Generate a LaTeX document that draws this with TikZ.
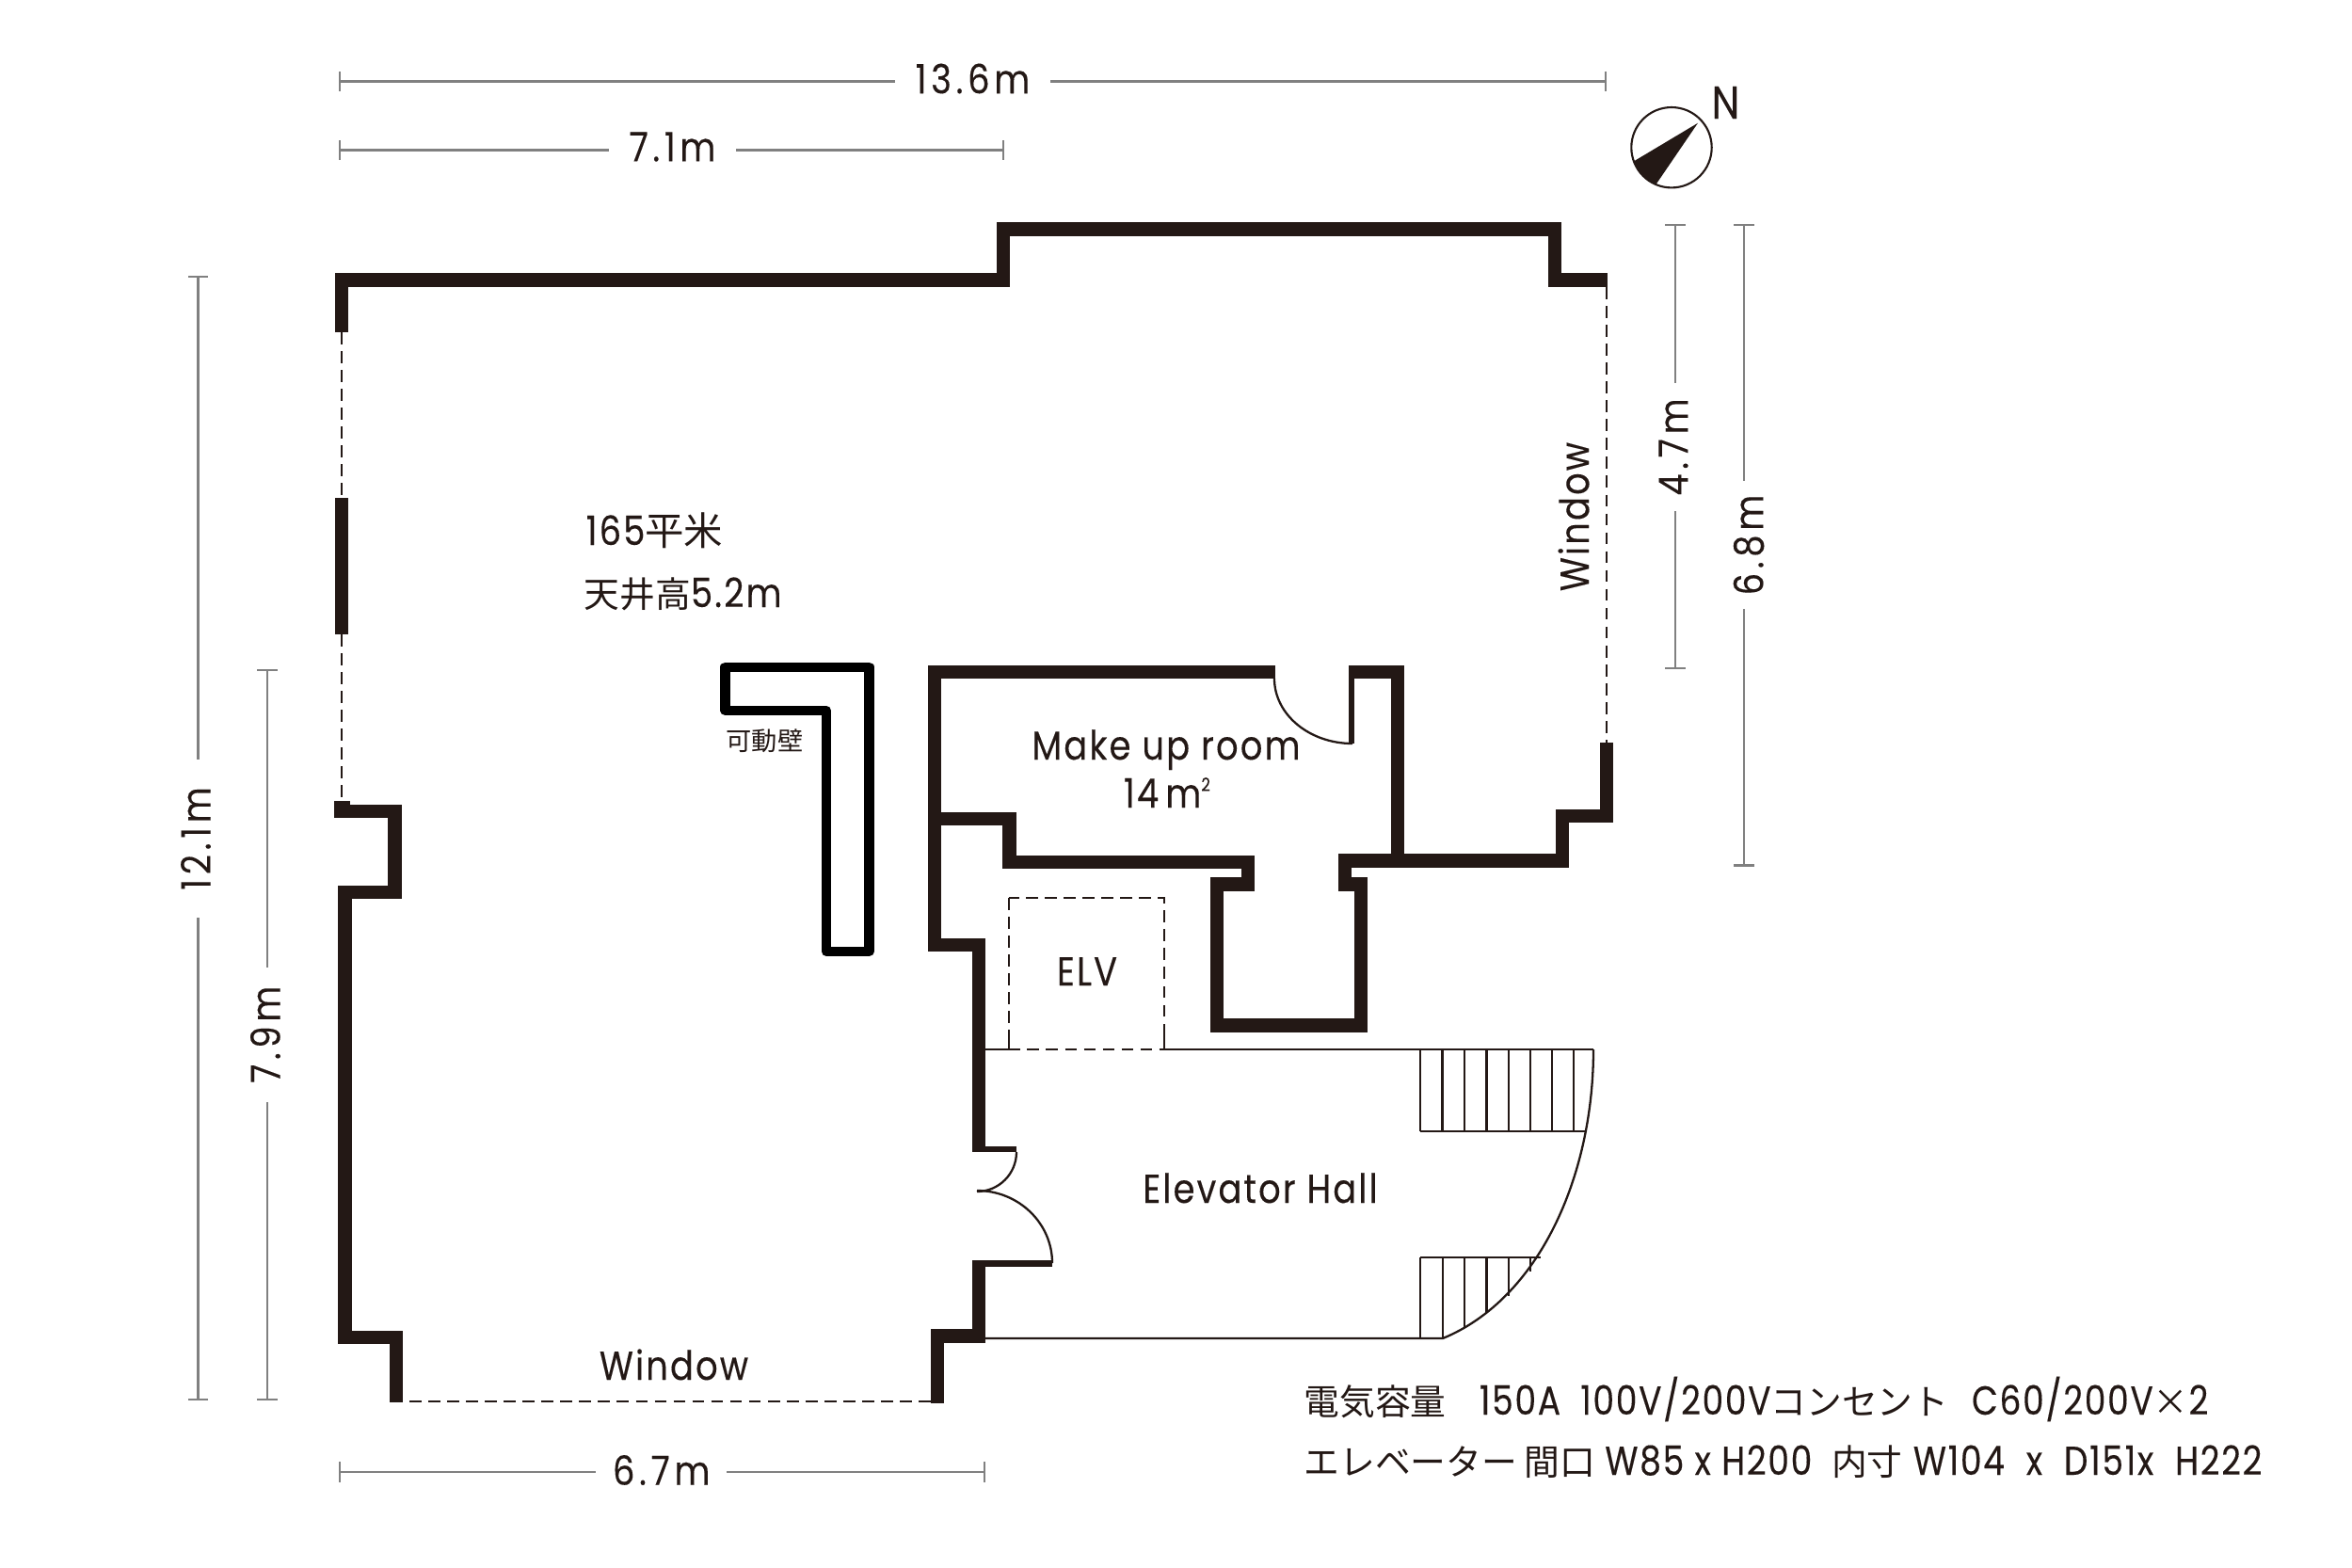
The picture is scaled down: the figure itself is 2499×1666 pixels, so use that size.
\documentclass[tikz,border=0pt]{standalone}
\usepackage{fontspec}
\setmainfont[FakeStretch=0.86,LetterSpace=5,FakeBold=0.2]{Poppins}
\newfontfamily\dimfont[FakeStretch=0.86,LetterSpace=11,FakeBold=0.2]{Poppins}
\newfontfamily\notefont[FakeStretch=0.84,LetterSpace=4,FakeBold=0.2]{Poppins}
\newfontfamily\cjk[Scale=0.88]{Noto Sans CJK JP}
\usetikzlibrary{arrows.meta}
\definecolor{wallink}{HTML}{231815}
\definecolor{dimgray}{HTML}{808080}
\newcommand{\jp}[1]{{\cjk #1}}
\tikzset{
    wall/.style={draw=wallink,line width=4pt,miter limit=10},
    thinwall/.style={draw=wallink,line width=1.9pt},
    hallline/.style={draw=wallink,line width=0.65pt},
    windowline/.style={draw=wallink,line width=0.8pt,dash pattern=on 3.6pt off 2.1pt},
    elvline/.style={draw=wallink,line width=0.7pt,dash pattern=on 3.6pt off 2.1pt},
    dimline/.style={draw=dimgray,line width=0.7pt},
    label/.style={inner sep=0pt,text=wallink,font=\fontsize{12.2}{14}\selectfont},
    dimlabel/.style={label,minimum height=10pt,font=\dimfont\fontsize{12.2}{14}\selectfont},
    notelabel/.style={label,anchor=base west,font=\notefont\fontsize{12.2}{14}\selectfont}
}
\begin{document}
\begin{tikzpicture}[x=0.01cm,y=-0.01cm]
    \useasboundingbox (0,0) rectangle (2499,1666);
    %% outer walls
    \draw[wall] (363,353) -- (363,297.5) -- (1066,297.5) -- (1066,243.5) -- (1652,243.5) -- (1652,297.5) -- (1708,297.5);
    \draw[wall] (363,529) -- (363,674);
    \fill[wallink] (355,851) rectangle (372,869);
    \draw[wall] (355,862) -- (419.5,862) -- (419.5,948) -- (366.5,948) -- (366.5,1421) -- (421,1421) -- (421,1490);
    %% make up room and core
    \draw[wall] (1355,714) -- (993,714) -- (993,1004) -- (1040,1004) -- (1040,1224);
    \draw[wall] (993,870) -- (1072.5,870) -- (1072.5,916) -- (1326,916) -- (1326,939.5) -- (1293,939.5) -- (1293,1089.5)
        -- (1446,1089.5) -- (1446,939.5) -- (1429,939.5) -- (1429,914.5) -- (1660,914.5) -- (1660,867) -- (1707,867) -- (1707,789);
    \draw[wall] (1433,714) -- (1485,714) -- (1485,914);
    \draw[thinwall] (1436,790) -- (1436,714);
    %% hall entrance
    \draw[thinwall] (1040,1221) -- (1080,1221);
    \draw[thinwall] (1118,1342.5) -- (1040,1342.5);
    \draw[wall] (1040,1339) -- (1040,1419.5) -- (996,1419.5) -- (996,1491);
    %% movable wall
    \draw[line width=2.85pt,line join=round] (770.5,708.5) -- (923.5,708.5) -- (923.5,1011) -- (878,1011) -- (878,755) -- (770.5,755) -- cycle;
    %% windows
    \draw[windowline] (363,353) -- (363,529);
    \draw[windowline] (363,674) -- (363,851);
    \draw[windowline] (1707,305) -- (1707,789);
    \draw[windowline] (435,1489) -- (989,1489);
    %% doors
    \draw[hallline] (1354,721) arc[start angle=180,end angle=90,x radius=83,y radius=69];
    \draw[hallline] (1080,1224) arc[start angle=0,end angle=90,radius=42];
    \draw[hallline] (1038,1265) arc[start angle=270,end angle=360,x radius=80,y radius=77];
    %% elevator and hall
    \draw[elvline] (1072,954) rectangle (1237,1115);
    \draw[hallline] (1047,1115) -- (1072,1115);
    \draw[hallline] (1072,1115) -- (1072,1100);
    \draw[hallline] (1237,1100) -- (1237,1115) -- (1693,1115);
    \draw[hallline] (1693,1115) .. controls (1693,1250) and (1635,1380) .. (1533,1422) -- (1047,1422);
    %% stairs
    \foreach \x in {1509,1532.5,1556,1579.5,1603,1626,1649,1672}
        \draw[hallline] (\x,1115) -- (\x,1202);
    \draw[hallline] (1509,1202) -- (1685,1202);
    \foreach \x/\y in {1509/1422,1533/1422,1556/1410,1579.5/1395,1603/1377,1626/1351}
        \draw[hallline] (\x,1336) -- (\x,\y);
    \draw[hallline] (1509,1336) -- (1637,1336);
    %% dimensions
    \foreach \nm/\xa/\xb/\y/\ga/\gb/\ty/\lab in {a/360/1707/86.5/952/1115/83.5/13.6m,
        b/360/1067/159.5/648/781/156/7.1m,c/360/1047/1564/634/771.5/1562/6.7m} {
        \coordinate (dl\nm) at (\xa,\y);
        \coordinate (dr\nm) at (\xb,\y);
        \node[dimlabel,minimum width={(\gb-\ga)*0.2845pt}] (dim\nm) at ({(\ga+\gb)/2},\ty) {\lab};
        \draw[dimline,{Bar[width=6pt]}-] (dl\nm) -- (dl\nm -| dim\nm.west);
        \draw[dimline,{Bar[width=6pt]}-] (dr\nm) -- (dr\nm -| dim\nm.east);
    }
    \foreach \nm/\x/\ya/\yb/\ga/\gb/\tx/\lab in {d/210.7/293/1488/808/974/208/12.1m,
        e/284/711/1488/1028.5/1170/282/7.9m,f/1780/238/711/408/542/1778/4.7m,g/1853/238/920.7/512/646/1858/6.8m} {
        \coordinate (dt\nm) at (\x,\ya);
        \coordinate (db\nm) at (\x,\yb);
        \node[dimlabel,rotate=90,minimum width={(\gb-\ga)*0.2845pt}] (dim\nm) at (\tx,{(\ga+\gb)/2}) {\lab};
        \draw[dimline,{Bar[width=6pt]}-] (dt\nm) -- (dt\nm |- dim\nm.east);
        \draw[dimline,{Bar[width=6pt]}-] (db\nm) -- (db\nm |- dim\nm.west);
    }
    %% north mark
    \draw[wallink,line width=0.6pt] (1776,156.7) circle[radius=42.7];
    \fill[wallink] (1804,130.7) -- (1736,171.3) arc[start angle=160,end angle=113,radius=42.7] -- cycle;
    \node[label,font=\fontsize{14}{16}\selectfont] (north) at (1833.5,109) {N};
    %% room texts
    \node[label,anchor=base west] (area) at (622,579) {165\jp{\fontsize{13.4}{14}\selectfont 平米}};
    \node[label,anchor=base west] (height) at (620,645) {\jp{天井高}5.2m};
    \node[label,anchor=base west,font=\fontsize{8.8}{10}\selectfont] (movable) at (771,797) {\jp{可動壁}};
    \node[label,anchor=base] (makeup) at (1239,807) {Make up room};
    \node[label,anchor=base] (makeuparea) at (1240,858) {14\,m\raisebox{5pt}{\fontsize{5.5}{6}\selectfont 2}};
    \node[label,anchor=base] (elv) at (1155,1047) {ELV};
    \node[label,anchor=base] (hall) at (1339,1278) {Elevator Hall};
    \node[label,anchor=base] (winsouth) at (716,1466) {Window};
    \node[label,rotate=90] (wineast) at (1672,549) {Window};
    %% notes
    \node[notelabel] (power) at (1385,1503) {\jp{電気容量}\hspace*{10pt}150A\hspace*{6pt}100V/200V\jp{コンセント}\hspace*{7pt}C60/200V\jp{×}2};
    \node[notelabel] (lift) at (1385,1567) {\jp{エレベーター}\hspace*{2pt}\jp{間口}\hspace*{3pt}W85 x H200\hspace*{5.9pt}\jp{内寸}\hspace*{3.2pt}W104\hspace*{6.5pt}x\hspace*{6.5pt}D151x\hspace*{6.5pt}H222};
\end{tikzpicture}
\end{document}
